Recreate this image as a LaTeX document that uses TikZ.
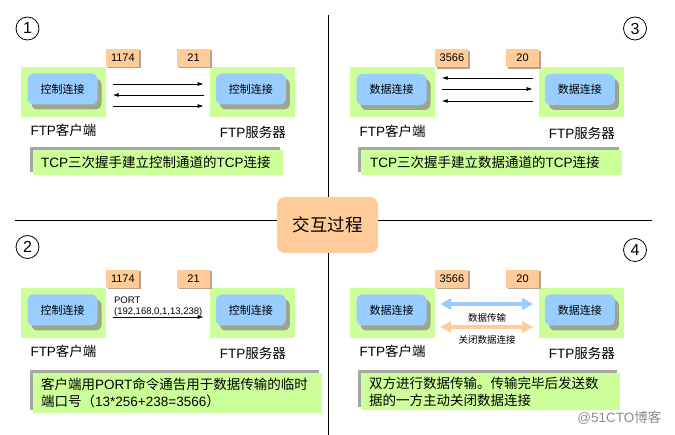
\documentclass[tikz,border=0pt]{standalone}
\usepackage{fontspec}
\setmainfont{Liberation Sans}
\newfontfamily\zh{Noto Sans CJK SC}
\usepackage{tikz}
\usetikzlibrary{arrows.meta,positioning,shadows}
\definecolor{ftpGreen}{HTML}{CCFF99}
\definecolor{ftpBlue}{HTML}{99CCFF}
\definecolor{ftpPeach}{HTML}{FFCC99}
\definecolor{ftpShade}{HTML}{9DA68A}
\definecolor{ftpPortShade}{HTML}{B8A08C}
\definecolor{ftpGray}{HTML}{A6A6A6}
\tikzset{
    >=Latex,
    host/.style={fill=ftpGreen, minimum width=85pt, minimum height=50pt, inner sep=0pt},
    conn/.style={fill=ftpBlue, rounded corners=6pt, minimum width=70pt, minimum height=31pt, inner sep=0pt, font=\zh\fontsize{11}{11}\selectfont, drop shadow={shadow xshift=4pt, shadow yshift=-5pt, fill=ftpShade, opacity=1}},
    port/.style={fill=ftpPeach, minimum width=33pt, minimum height=18pt, inner sep=0pt, font=\fontsize{11}{11}\selectfont, drop shadow={shadow xshift=1.5pt, shadow yshift=-1.5pt, fill=ftpPortShade, opacity=1}},
    hostlabel/.style={font=\fontsize{13.5}{13.5}\selectfont, inner sep=0pt},
    caption/.style={fill=ftpGreen, anchor=north west, align=left, inner xsep=8pt, inner ysep=4pt, font=\fontsize{13.5}{17}\selectfont, drop shadow={shadow xshift=-3pt, shadow yshift=3pt, fill=ftpGray, opacity=1}},
    stepno/.style={circle, draw, line width=0.8pt, minimum size=23pt, inner sep=0pt, font=\fontsize{16}{16}\selectfont},
    msg/.style={-{Latex[length=6pt,width=4pt]}, line width=0.8pt, shorten <=6.5pt, shorten >=6.5pt},
    bigmsg/.style={{Triangle[length=11pt,width=11pt]}-{Triangle[length=11pt,width=11pt]}, line width=4pt, shorten <=5pt, shorten >=6pt},
    smalltxt/.style={font=\zh\fontsize{9.5}{9.5}\selectfont, inner sep=0pt},
    divider/.style={line width=0.8pt}
}
\begin{document}
\begin{tikzpicture}[x=1pt, y=-1pt, node distance=7pt]
\useasboundingbox (0,0) rectangle (675,435);
% center title and dividers
\node[fill=ftpPeach, rounded corners=8pt, minimum width=101pt, minimum height=56pt, font=\zh\fontsize{17.5}{17.5}\selectfont] (mid) at (327.5,225) {交互过程};
\coordinate (vtop) at (328,15); \coordinate (vbot) at (328,435);
\coordinate (hl) at (15,220); \coordinate (hr) at (652,220);
\draw[divider] (vtop) -- (vtop |- mid.north); \draw[divider] (vbot |- mid.south) -- (vbot);
\draw[divider] (hl) -- (mid.west |- hl); \draw[divider] (mid.east |- hr) -- (hr);
% step 1
\node[stepno] (n1) at (27.5,28.5) {1};
\node[host] (cli1) at (63.5,92) {};
\node[host, right=104pt of cli1] (srv1) {};
\node[conn, xshift=-1pt, yshift=3pt] (cc1) at (cli1) {控制连接};
\node[conn, xshift=-2pt, yshift=3pt] (sc1) at (srv1) {控制连接};
\node[port, anchor=south west] (cp1) at (cli1.north east) {1174};
\node[port, anchor=south east] (sp1) at (srv1.north west) {21};
\node[hostlabel, below=of cli1] (cl1) {FTP{\zh 客户端}};
\node[hostlabel, below=9pt of srv1] (sl1) {FTP{\zh 服务器}};
\draw[msg] ([yshift=8pt]cli1.east) -- ([yshift=8pt]srv1.west);
\draw[msg] ([yshift=-3pt]srv1.west) -- ([yshift=-3pt]cli1.east);
\draw[msg] ([yshift=-14pt]cli1.east) -- ([yshift=-14pt]srv1.west);
\node[caption, text width=234pt, minimum height=25pt] (cap1) at (33,150) {TCP{\zh 三次握手建立控制通道的}TCP{\zh 连接}};
% step 3
\node[stepno] (n3) at (635,28.5) {3};
\node[host] (cli3) at (392.5,92.5) {};
\node[host, right=104pt of cli3] (srv3) {};
\node[conn, xshift=-1pt, yshift=3pt] (cc3) at (cli3) {数据连接};
\node[conn, xshift=-2pt, yshift=3pt] (sc3) at (srv3) {数据连接};
\node[port, anchor=south west] (cp3) at (cli3.north east) {3566};
\node[port, anchor=south east] (sp3) at (srv3.north west) {20};
\node[hostlabel, below=of cli3] (cl3) {FTP{\zh 客户端}};
\node[hostlabel, below=9pt of srv3] (sl3) {FTP{\zh 服务器}};
\draw[msg] ([yshift=14.5pt]srv3.west) -- ([yshift=14.5pt]cli3.east);
\draw[msg] ([yshift=3.5pt]cli3.east) -- ([yshift=3.5pt]srv3.west);
\draw[msg] ([yshift=-8.5pt]srv3.west) -- ([yshift=-8.5pt]cli3.east);
\node[caption, text width=243pt, minimum height=25pt, inner xsep=9pt] (cap3) at (361,150) {TCP{\zh 三次握手建立数据通道的}TCP{\zh 连接}};
% step 2
\node[stepno] (n2) at (27.5,247) {2};
\node[host] (cli2) at (63.5,313) {};
\node[host, right=104pt of cli2] (srv2) {};
\node[conn, xshift=-1pt, yshift=3pt] (cc2) at (cli2) {控制连接};
\node[conn, xshift=-2pt, yshift=3pt] (sc2) at (srv2) {控制连接};
\node[port, anchor=south west] (cp2) at (cli2.north east) {1174};
\node[port, anchor=south east] (sp2) at (srv2.north west) {21};
\node[hostlabel, below=of cli2] (cl2) {FTP{\zh 客户端}};
\node[hostlabel, below=9pt of srv2] (sl2) {FTP{\zh 服务器}};
\draw[msg] ([yshift=-4pt]cli2.east) -- node[above=0.5pt, align=left, inner sep=0pt, font=\fontsize{9.5}{11}\selectfont] (port2) {PORT\\(192,168,0,1,13,238)} ([yshift=-4pt]srv2.west);
\node[caption, text width=273pt, minimum height=40pt, inner ysep=3pt] (cap2) at (33,373) {{\zh 客户端用}PORT{\zh 命令通告用于数据传输的临时}\\{\zh 端口号（}13*256+238=3566{\zh ）}};
% step 4
\node[stepno] (n4) at (635,250) {4};
\node[host] (cli4) at (392.5,313) {};
\node[host, right=104pt of cli4] (srv4) {};
\node[conn, xshift=-1pt, yshift=3pt] (cc4) at (cli4) {数据连接};
\node[conn, xshift=-2pt, yshift=3pt] (sc4) at (srv4) {数据连接};
\node[port, anchor=south west] (cp4) at (cli4.north east) {3566};
\node[port, anchor=south east] (sp4) at (srv4.north west) {20};
\node[hostlabel, below=of cli4] (cl4) {FTP{\zh 客户端}};
\node[hostlabel, below=9pt of srv4] (sl4) {FTP{\zh 服务器}};
\draw[bigmsg, draw=ftpBlue] ([yshift=9pt]cli4.east) -- node[smalltxt, below=7pt] (dt4) {数据传输} ([yshift=9pt]srv4.west);
\draw[bigmsg, draw=ftpPeach] ([yshift=-14pt]cli4.east) -- node[smalltxt, below=7pt] (cl4msg) {关闭数据连接} ([yshift=-14pt]srv4.west);
\node[caption, text width=243pt, minimum height=37pt, inner ysep=2pt] (cap4) at (361,373) {{\zh 双方进行数据传输。传输完毕后发送数}\\{\zh 据的一方主动关闭数据连接}};
% watermark
\node[text=black!45, font=\fontsize{13.5}{13.5}\selectfont, anchor=east] (wm) at (665,418) {@51CTO{\zh 博客}};
\end{tikzpicture}
\end{document}
